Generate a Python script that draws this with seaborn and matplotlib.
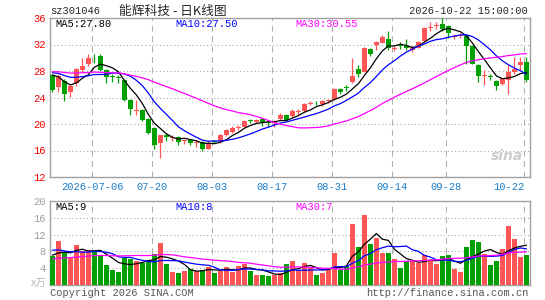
import matplotlib
matplotlib.use('Agg')
import matplotlib.pyplot as plt
import seaborn as sns
import numpy as np
import pandas as pd

sns.set_style('white')
plt.rcParams['font.family'] = ['Liberation Mono', 'Noto Sans CJK SC', 'DejaVu Sans']

code = 'sz301046'
title = '能辉科技 - 日K线图'
stamp = '2026-10-22 15:00:00'

# trading days shown (weekends and holidays left out)
holidays = ['2026-09-25', '2026-10-01', '2026-10-02', '2026-10-05', '2026-10-06', '2026-10-07']
dates = pd.bdate_range('2026-06-25', '2026-10-22')
dates = dates[~dates.isin(pd.to_datetime(holidays))]
tick_dates = ['2026-07-06', '2026-07-20', '2026-08-03', '2026-08-17', '2026-08-31',
              '2026-09-14', '2026-09-28', '2026-10-22']

opens = [27.4, 25.6, 26.5, 24.9, 26.2, 28.1, 29.1, 30.3, 30.3, 28.2,
         27.25, 27.0, 26.7, 23.6, 22.0, 22.1, 20.8, 19.4, 17.1, 18.3,
         17.9, 18.1, 17.4, 17.6, 17.1, 17.3, 16.3, 17.4, 17.4, 18.4,
         18.8, 19.4, 19.6, 20.5, 20.3, 20.7, 20.2, 20.2, 20.8, 21.3,
         21.2, 21.8, 22.0, 23.0, 23.15, 22.95, 23.5, 23.7, 25.3, 25.6,
         26.4, 28.3, 27.9, 31.3, 31.9, 32.3, 32.8, 31.3, 31.9, 31.8,
         31.1, 31.5, 32.6, 34.5, 34.8, 35.1, 34.8, 33.2, 33.3, 33.3,
         31.8, 28.9, 27.2, 27.2, 26.5, 26.0, 26.6, 27.8, 28.95, 29.3]
highs = [27.6, 27.6, 26.8, 26.0, 28.5, 29.9, 30.5, 30.6, 30.5, 28.3,
         27.5, 27.4, 26.8, 23.7, 23.6, 22.2, 20.9, 19.5, 18.4, 18.7,
         18.3, 18.2, 17.8, 17.7, 17.6, 17.4, 17.4, 17.6, 18.5, 19.3,
         19.7, 19.8, 20.6, 20.8, 20.8, 20.8, 20.4, 20.6, 21.6, 21.5,
         22.2, 22.3, 23.1, 23.4, 23.5, 23.6, 23.8, 25.5, 25.5, 25.9,
         29.9, 28.9, 31.6, 31.4, 32.6, 33.5, 34.0, 31.8, 32.4, 32.9,
         31.8, 32.6, 34.6, 35.35, 35.4, 36.0, 34.9, 33.6, 33.7, 33.4,
         31.9, 29.0, 28.1, 27.5, 26.6, 27.0, 28.9, 30.1, 30.1, 30.1]
lows = [24.8, 24.9, 23.5, 24.1, 25.7, 27.8, 28.8, 29.2, 28.0, 26.2,
        26.4, 26.2, 23.4, 21.4, 21.4, 20.4, 18.5, 16.3, 14.9, 17.4,
        17.4, 16.9, 17.0, 16.9, 16.5, 16.0, 16.2, 17.1, 17.2, 18.2,
        18.6, 19.1, 19.5, 20.1, 20.1, 19.7, 19.5, 19.6, 20.6, 20.4,
        21.0, 21.4, 21.8, 22.8, 22.8, 22.7, 23.2, 23.6, 24.6, 25.0,
        26.2, 27.1, 27.8, 30.2, 31.1, 32.2, 31.2, 31.0, 31.3, 31.2,
        30.9, 31.4, 32.5, 34.0, 34.4, 34.1, 33.0, 32.9, 33.0, 29.1,
        29.0, 26.3, 25.9, 26.6, 25.2, 25.9, 24.6, 27.6, 28.1, 26.4]
closes = [25.2, 27.2, 24.6, 25.7, 28.3, 28.7, 29.9, 30.2, 28.1, 27.1,
          27.1, 26.9, 23.6, 22.2, 22.1, 20.6, 18.7, 16.9, 18.3, 18.1,
          18.0, 17.3, 17.6, 17.2, 17.25, 16.2, 17.2, 17.3, 18.3, 19.1,
          19.4, 19.5, 20.5, 20.4, 20.6, 20.1, 20.1, 20.4, 21.4, 20.6,
          22.0, 21.9, 23.0, 23.1, 23.1, 23.4, 23.6, 25.3, 24.8, 25.45,
          27.3, 27.6, 31.5, 30.5, 32.4, 33.2, 31.4, 31.4, 31.8, 31.5,
          31.6, 32.4, 34.5, 34.7, 34.9, 34.4, 33.7, 33.3, 33.35, 31.8,
          29.0, 27.2, 27.3, 27.1, 25.7, 26.9, 27.8, 28.3, 29.3, 26.7]
volumes = [6.9, 10.5, 7.9, 6.5, 9.5, 8.2, 8.3, 8.2, 7.1, 4.8,
           3.6, 3.2, 6.5, 6.2, 5.8, 5.2, 5.4, 7.4, 10.1, 5.0,
           3.2, 2.9, 3.3, 3.8, 3.3, 3.6, 4.4, 2.9, 3.4, 4.4,
           3.0, 4.5, 5.0, 3.4, 2.5, 2.5, 2.2, 2.5, 2.8, 5.0,
           5.7, 3.4, 5.2, 4.0, 2.4, 2.9, 4.0, 7.6, 3.6, 4.6,
           14.5, 9.1, 16.7, 9.7, 11.3, 7.7, 7.7, 6.2, 4.1, 5.7,
           5.8, 5.3, 7.1, 5.6, 5.0, 7.0, 7.1, 3.8, 3.0, 9.1,
           10.7, 10.2, 7.4, 4.8, 5.7, 8.6, 14.1, 10.9, 6.7, 7.1]

# sessions before the window, only used for the moving averages
prior_closes = [27.5, 27.9, 28.3, 28.0, 27.6, 28.2, 28.8, 29.1, 28.5, 27.9,
                27.4, 27.8, 28.1, 27.6, 27.2, 27.5, 27.9, 28.4, 28.0, 27.7,
                28.2, 27.9, 28.4, 28.1, 27.8, 28.6, 28.3, 28.1, 26.8]
prior_volumes = [5.2, 4.6, 5.8, 4.9, 5.5, 4.3, 5.0, 6.1, 4.8, 5.3,
                 4.7, 5.6, 5.0, 4.4, 5.9, 5.2, 4.9, 5.4, 5.1, 5.3,
                 9.8, 10.4, 8.6, 9.1, 9.5, 7.9, 6.8, 7.4, 6.5]

ma_windows = [5, 10, 30]
ma_colors = ['black', '#0000ff', '#ff00ff']
price_ma_text = ['27.80', '27.50', '30.55']
vol_ma_text = ['9', '8', '7']

RED = '#ff5555'
GREEN = '#00a000'
FRAME = '#a0a0a0'

W, H = 545, 300
fig = plt.figure(figsize=(W / 100, H / 100), dpi=100)
ax = fig.add_axes([50 / W, 1 - 177 / H, 480 / W, 159 / H])
axv = fig.add_axes([50 / W, 1 - 285 / H, 480 / W, 84 / H])

x = np.arange(len(closes))
o = np.array(opens)
c = np.array(closes)
cols = np.where(c >= o, RED, GREEN)

# candles
ax.vlines(x, lows, highs, colors=cols, lw=0.9, zorder=3)
ax.bar(x, np.maximum(np.abs(c - o), 0.13), bottom=np.minimum(o, c), width=0.82,
       color=cols, linewidth=0, zorder=3)

# volume bars
axv.bar(x, volumes, width=0.82, color=cols, linewidth=0, zorder=3)

n0 = len(prior_closes)
all_close = pd.Series(prior_closes + closes)
all_vol = pd.Series(prior_volumes + volumes)
for w, col in zip(ma_windows, ma_colors):
    sns.lineplot(x=x, y=all_close.rolling(w).mean().to_numpy()[n0:], ax=ax,
                 color=col, lw=0.9, zorder=4)
    sns.lineplot(x=x, y=all_vol.rolling(w).mean().to_numpy()[n0:], ax=axv,
                 color=col, lw=0.9, zorder=4)

for a in (ax, axv):
    a.set_xlim(-0.4, 79.6)
    a.set_xticks([])
    a.set_xlabel('')
    a.set_ylabel('')
    for s in a.spines.values():
        s.set_color(FRAME)
        s.set_linewidth(1)
    a.tick_params(axis='y', length=0, pad=3)

ax.set_ylim(12, 36)
ax.set_yticks(range(12, 37, 4))
ax.set_yticklabels([str(v) for v in range(12, 37, 4)], color='#ee0000', fontsize=7.5)
for v in range(16, 33, 4):
    ax.axhline(v, color='#a0a0a0', lw=0.75, ls=(0, (1, 2.5)), zorder=1)

axv.set_ylim(0, 20)
axv.set_yticks(range(4, 21, 4))
axv.set_yticklabels([str(v) for v in range(4, 21, 4)], color='#a0a0a0', fontsize=7.5)
for v in range(4, 17, 4):
    axv.axhline(v, color='#a0a0a0', lw=0.75, ls=(0, (1, 2.5)), zorder=1)

# date separators and labels
date_list = list(dates.strftime('%Y-%m-%d'))
for k, d in enumerate(tick_dates):
    pos = date_list.index(d) - 0.33
    for a in (ax, axv):
        a.axvline(pos, color='#b0b0b0', lw=0.75, ls=(0, (5.7, 4.3)), zorder=1)
    label = d if k == 0 else d[5:]
    ha = 'right' if k == len(tick_dates) - 1 else 'center'
    ax.text(pos, -0.063, label, transform=ax.get_xaxis_transform(), ha=ha, va='center',
            color='#1a7dc9', fontsize=7.5)

# moving average captions
for w, col, tx, xp in zip(ma_windows, ma_colors, price_ma_text, [55, 175, 295]):
    ax.text((xp - 50) / 480, 0.962, f'MA{w}:{tx}', transform=ax.transAxes,
            color=col, fontsize=7.5, va='center', ha='left')
for w, col, tx, xp in zip(ma_windows, ma_colors, vol_ma_text, [55, 175, 295]):
    axv.text((xp - 50) / 480, 0.93, f'MA{w}:{tx}', transform=axv.transAxes,
             color=col, fontsize=7.5, va='center', ha='left')

fig.text(50 / W, 1 - 11 / H, code, fontsize=7.5, va='center', ha='left')
fig.text(119 / W, 1 - 11 / H, title, fontsize=9.2, va='center', ha='left',
         family=['Noto Sans CJK SC', 'DejaVu Sans'])
fig.text(528 / W, 1 - 11 / H, stamp, fontsize=7.5, va='center', ha='right')
fig.text(46 / W, 1 - 284 / H, 'x万', fontsize=7.5, va='center', ha='right',
         color='#b8b8b8', family=['Noto Sans CJK SC', 'DejaVu Sans'])
fig.text(50 / W, 1 - 293 / H, 'Copyright 2026 SINA.COM', fontsize=7.5,
         va='center', ha='left', color='#555555')
fig.text(529 / W, 1 - 293 / H, 'http://finance.sina.com.cn', fontsize=7.5,
         va='center', ha='right', color='#555555')
ax.text(0.985, 0.13, 'sina', transform=ax.transAxes, ha='right', va='center',
        fontsize=10, color='#cccccc', style='italic', weight='bold',
        family='DejaVu Sans', zorder=2)

fig.savefig('out.png', dpi=100)
